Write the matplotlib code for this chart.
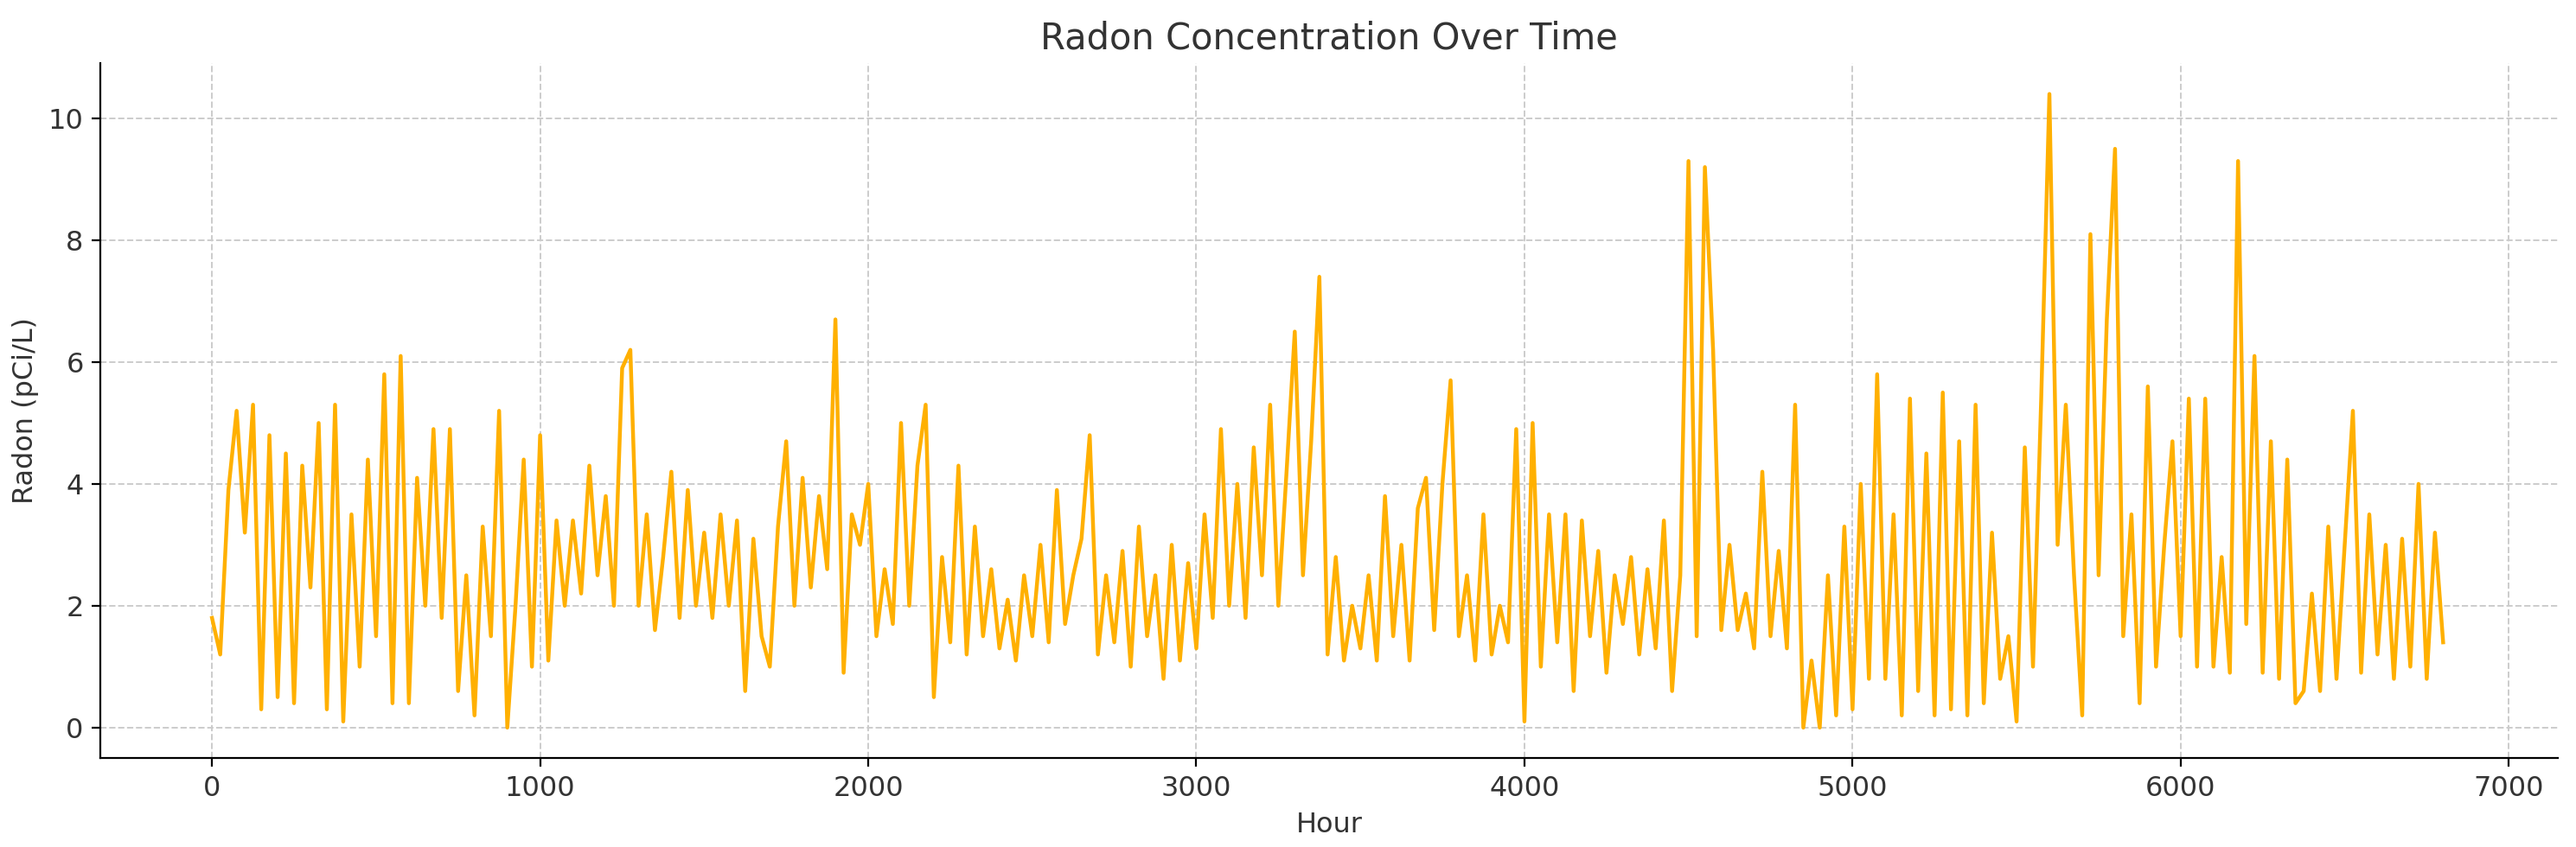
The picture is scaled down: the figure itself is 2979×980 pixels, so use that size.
import matplotlib
matplotlib.use("Agg")
import matplotlib.pyplot as plt

radon = [
1.8,1.2,3.9,5.2, 3.2,5.3,0.3,4.8, 0.5,4.5,0.4,4.3, 2.3,5.0,0.3,5.3, 0.1,3.5,1.0,4.4,
1.5,5.8,0.4,6.1, 0.4,4.1,2.0,4.9, 1.8,4.9,0.6,2.5, 0.2,3.3,1.5,5.2, 0.0,2.0,4.4,1.0,
4.8,1.1,3.4,2.0, 3.4,2.2,4.3,2.5, 3.8,2.0,5.9,6.2, 2.0,3.5,1.6,2.8, 4.2,1.8,3.9,2.0,
3.2,1.8,3.5,2.0, 3.4,0.6,3.1,1.5, 1.0,3.3,4.7,2.0, 4.1,2.3,3.8,2.6, 6.7,0.9,3.5,3.0,
4.0,1.5,2.6,1.7, 5.0,2.0,4.3,5.3, 0.5,2.8,1.4,4.3, 1.2,3.3,1.5,2.6, 1.3,2.1,1.1,2.5,
1.5,3.0,1.4,3.9, 1.7,2.5,3.1,4.8, 1.2,2.5,1.4,2.9, 1.0,3.3,1.5,2.5, 0.8,3.0,1.1,2.7,
1.3,3.5,1.8,4.9, 2.0,4.0,1.8,4.6, 2.5,5.3,2.0,4.2, 6.5,2.5,4.7,7.4, 1.2,2.8,1.1,2.0,
1.3,2.5,1.1,3.8, 1.5,3.0,1.1,3.6, 4.1,1.6,4.0,5.7, 1.5,2.5,1.1,3.5, 1.2,2.0,1.4,4.9,
0.1,5.0,1.0,3.5, 1.4,3.5,0.6,3.4, 1.5,2.9,0.9,2.5, 1.7,2.8,1.2,2.6, 1.3,3.4,0.6,2.5,
9.3,1.5,9.2,6.2, 1.6,3.0,1.6,2.2, 1.3,4.2,1.5,2.9, 1.3,5.3,0.0,1.1, 0.0,2.5,0.2,3.3,
0.3,4.0,0.8,5.8, 0.8,3.5,0.2,5.4, 0.6,4.5,0.2,5.5, 0.3,4.7,0.2,5.3, 0.4,3.2,0.8,1.5,
0.1,4.6,1.0,5.4, 10.4,3.0,5.3,2.5, 0.2,8.1,2.5,6.7, 9.5,1.5,3.5,0.4, 5.6,1.0,3.0,4.7,
1.5,5.4,1.0,5.4, 1.0,2.8,0.9,9.3, 1.7,6.1,0.9,4.7, 0.8,4.4,0.4,0.6, 2.2,0.6,3.3,0.8,
3.0,5.2,0.9,3.5, 1.2,3.0,0.8,3.1, 1.0,4.0,0.8,3.2, 1.4,
]
hours = [25 * i for i in range(len(radon))]

fig, ax = plt.subplots(figsize=(14.895, 4.9), dpi=200)
ax.plot(hours, radon, color="#FFB000", linewidth=1.6)
ax.set_title("Radon Concentration Over Time", fontsize=15, color="#333333")
ax.set_xlabel("Hour", fontsize=11.5, color="#333333")
ax.set_ylabel("Radon (pCi/L)", fontsize=11.5, color="#333333")
ax.set_xlim(-340, 7150)
ax.set_ylim(-0.5, 10.9)
ax.set_xticks(range(0, 7001, 1000))
ax.set_yticks(range(0, 11, 2))
ax.tick_params(labelsize=11.5, labelcolor="#333333")
ax.grid(True, linestyle="--", color="#cccccc", linewidth=0.7)
ax.spines["top"].set_visible(False)
ax.spines["right"].set_visible(False)
fig.subplots_adjust(left=0.039, right=0.993, top=0.925, bottom=0.105)
fig.savefig("out.png")
